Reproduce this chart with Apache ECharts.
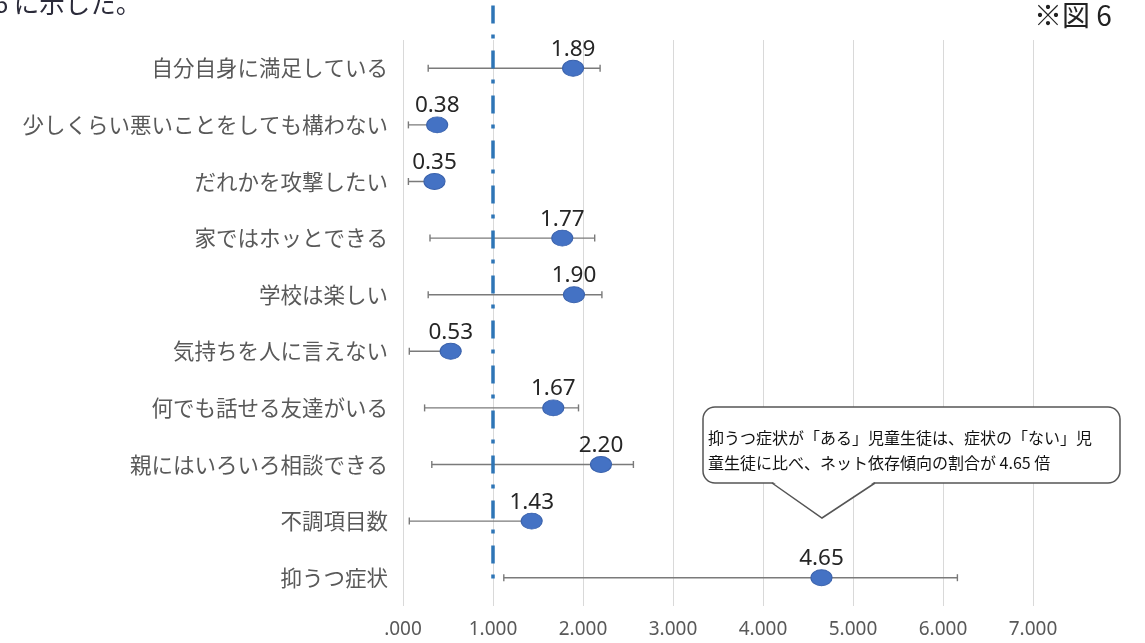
<!DOCTYPE html>
<html>
<head>
<meta charset="utf-8">
<script src="https://cdn.jsdelivr.net/npm/echarts@6/dist/echarts.min.js"></script>
<style>
html,body{margin:0;padding:0;background:#fff;}
#chart{width:1145px;height:643px;}
</style>
</head>
<body>
<div id="chart"></div>
<script>
const categories = ['自分自身に満足している', '少しくらい悪いことをしても構わない', 'だれかを攻撃したい', '家ではホッとできる', '学校は楽しい', '気持ちを人に言えない', '何でも話せる友達がいる', '親にはいろいろ相談できる', '不調項目数', '抑うつ症状'];
const oddsRatios = [1.89, 0.38, 0.35, 1.77, 1.90, 0.53, 1.67, 2.20, 1.43, 4.65];
const ciLower = [0.28, 0.06, 0.06, 0.30, 0.28, 0.07, 0.24, 0.32, 0.07, 1.12];
const ciUpper = [2.19, 0.45, 0.42, 2.13, 2.21, 0.60, 1.95, 2.56, 1.50, 6.16];
const referenceValue = 1;
const calloutLines = ['抑うつ症状が「ある」児童生徒は、症状の「ない」児', '童生徒に比べ、ネット依存傾向の割合が 4.65 倍'];
const figureLabel = '※図 6';
const headText = '6 に示した。';

const chart = echarts.init(document.getElementById('chart'), null, {renderer: 'canvas'});
const jp = '"Noto Sans CJK JP", "Noto Sans", sans-serif';

const ciData = categories.map((c, i) => [ciLower[i], ciUpper[i], i]);
const pointData = categories.map((c, i) => [oddsRatios[i], i]);

const option = {
  backgroundColor: '#ffffff',
  animation: false,
  grid: {left: 403, right: 112, top: 40, bottom: 37, containLabel: false},
  xAxis: {
    type: 'value', min: 0, max: 7, interval: 1,
    axisLine: {show: false}, axisTick: {show: false},
    splitLine: {show: true, lineStyle: {color: '#d9d9d9', width: 1}},
    axisLabel: {
      color: '#595959', fontSize: 19, fontFamily: '"Noto Sans", sans-serif', margin: 14,
      formatter: v => v === 0 ? '.000' : v.toFixed(3)
    }
  },
  yAxis: {
    type: 'category', data: categories, inverse: true,
    axisLine: {show: false}, axisTick: {show: false}, splitLine: {show: false},
    axisLabel: {color: '#595959', fontSize: 21.5, fontFamily: jp, margin: 15}
  },
  series: [
    {
      type: 'custom', name: 'ci', z: 2,
      encode: {x: [0, 1], y: 2},
      data: ciData,
      renderItem: function (params, api) {
        const y = api.value(2);
        const lo = api.coord([api.value(0), y]);
        const hi = api.coord([api.value(1), y]);
        const cap = 3.5;
        const st = {stroke: '#7a7a7a', lineWidth: 1.4};
        return {type: 'group', children: [
          {type: 'line', shape: {x1: lo[0], y1: lo[1], x2: hi[0], y2: hi[1]}, style: st},
          {type: 'line', shape: {x1: lo[0], y1: lo[1] - cap, x2: lo[0], y2: lo[1] + cap}, style: st},
          {type: 'line', shape: {x1: hi[0], y1: hi[1] - cap, x2: hi[0], y2: hi[1] + cap}, style: st}
        ]};
      }
    },
    {
      type: 'custom', name: 'ref', z: 3, clip: false,
      data: [[referenceValue]],
      encode: {x: 0},
      renderItem: function (params, api) {
        const v = api.value(0);
        const top = api.coord([v, 0]);
        const bot = api.coord([v, categories.length - 1]);
        const band = api.size([0, 1])[1];
        return {
          type: 'line',
          shape: {x1: top[0], y1: top[1] - band * 1.2, x2: bot[0], y2: bot[1] + band * 0.2},
          style: {stroke: '#2E75B6', lineWidth: 3.5, lineDash: [18, 11, 4, 12], lineDashOffset: -5}
        };
      }
    },
    {
      type: 'scatter', name: 'or', z: 5,
      data: pointData,
      symbol: 'circle', symbolSize: [21, 16],
      itemStyle: {color: '#4472C4', borderColor: '#3A62AC', borderWidth: 1, opacity: 1},
      label: {
        show: true, position: 'top', distance: -1,
        formatter: p => p.value[0].toFixed(2),
        color: '#262626', fontSize: 22.5, fontFamily: '"Noto Sans", sans-serif'
      }
    }
  ],
  graphic: [
    {
      type: 'rect', z: 100,
      shape: {x: 703, y: 407, width: 417, height: 76, r: 12},
      style: {fill: '#ffffff', stroke: '#555555', lineWidth: 1.5}
    },
    {
      type: 'polygon', z: 101,
      shape: {points: [[773, 482], [822, 517], [874, 482]]},
      style: {fill: '#ffffff', stroke: null}
    },
    {
      type: 'polyline', z: 102,
      shape: {points: [[772, 483], [822, 518], [875, 483]]},
      style: {fill: null, stroke: '#555555', lineWidth: 1.5}
    },
    {
      type: 'text', z: 103, left: 708, top: 425,
      style: {text: calloutLines.join('\n'), fill: '#111', font: '16px ' + jp, lineHeight: 25}
    },
    {
      type: 'text', z: 103, left: 1034, top: 1,
      style: {text: figureLabel, fill: '#222', font: '28px ' + jp}
    },
    {
      type: 'text', z: 103, left: -6, top: -9,
      style: {text: headText, fill: '#2b2b3a', font: '25.5px ' + jp}
    }
  ]
};
chart.setOption(option);
</script>
</body>
</html>
